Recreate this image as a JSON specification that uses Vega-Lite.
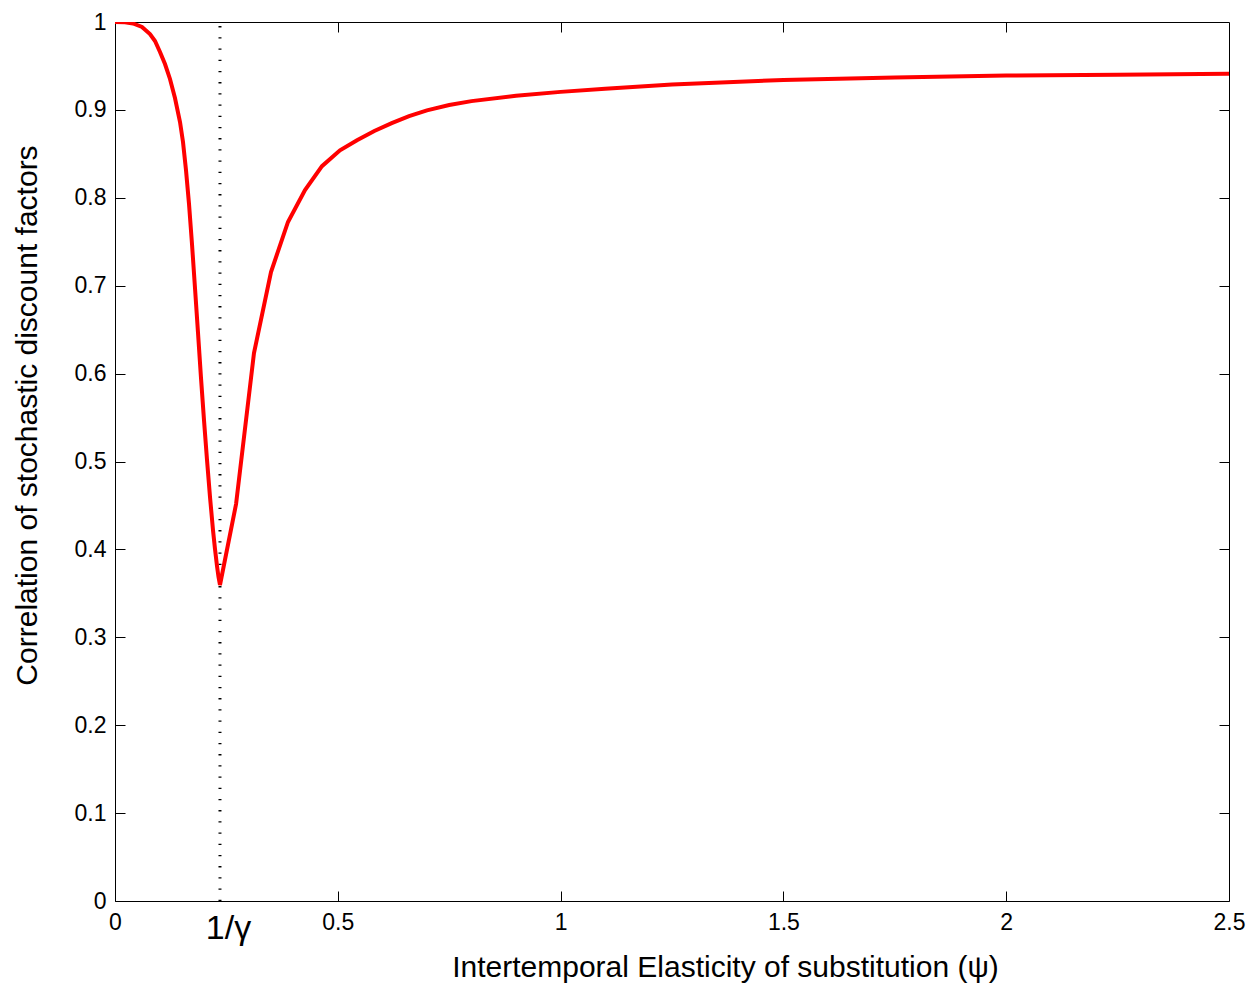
{
  "$schema": "https://vega.github.io/schema/vega-lite/v6.json",
  "width": 1114,
  "height": 879,
  "autosize": "none",
  "padding": {"left": 115, "top": 22, "right": 23, "bottom": 87},
  "background": "white",
  "config": {
    "view": {"stroke": "black", "strokeWidth": 1},
    "font": "Liberation Sans",
    "axis": {"grid": false, "domainColor": "black", "tickColor": "black", "labelColor": "black", "titleColor": "black", "titleFontWeight": "normal", "labelFont": "Liberation Sans", "titleFont": "Liberation Sans"}
  },
  "datasets": {
    "curve": [
      {"psi": 0.0, "rho": 1.0},
      {"psi": 0.0224, "rho": 0.9997},
      {"psi": 0.0404, "rho": 0.9983},
      {"psi": 0.0606, "rho": 0.9943},
      {"psi": 0.0785, "rho": 0.9863},
      {"psi": 0.0898, "rho": 0.9784},
      {"psi": 0.101, "rho": 0.9659},
      {"psi": 0.1122, "rho": 0.9522},
      {"psi": 0.1234, "rho": 0.9352},
      {"psi": 0.1346, "rho": 0.9135},
      {"psi": 0.1459, "rho": 0.8862},
      {"psi": 0.1526, "rho": 0.8635},
      {"psi": 0.1593, "rho": 0.8316},
      {"psi": 0.1661, "rho": 0.7929},
      {"psi": 0.1728, "rho": 0.7474},
      {"psi": 0.1795, "rho": 0.6974},
      {"psi": 0.1863, "rho": 0.6462},
      {"psi": 0.193, "rho": 0.595},
      {"psi": 0.1997, "rho": 0.5472},
      {"psi": 0.2065, "rho": 0.5017},
      {"psi": 0.2132, "rho": 0.4596},
      {"psi": 0.2199, "rho": 0.4221},
      {"psi": 0.2244, "rho": 0.4005},
      {"psi": 0.2289, "rho": 0.3811},
      {"psi": 0.2323, "rho": 0.3686},
      {"psi": 0.2356, "rho": 0.3595},
      {"psi": 0.2717, "rho": 0.4516},
      {"psi": 0.3119, "rho": 0.6234},
      {"psi": 0.3501, "rho": 0.7156},
      {"psi": 0.3882, "rho": 0.7725},
      {"psi": 0.4264, "rho": 0.8089},
      {"psi": 0.4645, "rho": 0.836},
      {"psi": 0.5049, "rho": 0.854},
      {"psi": 0.5431, "rho": 0.8655},
      {"psi": 0.582, "rho": 0.876},
      {"psi": 0.621, "rho": 0.885},
      {"psi": 0.66, "rho": 0.893},
      {"psi": 0.7, "rho": 0.8995},
      {"psi": 0.75, "rho": 0.9055},
      {"psi": 0.8, "rho": 0.91},
      {"psi": 0.9, "rho": 0.916},
      {"psi": 1.0, "rho": 0.9205},
      {"psi": 1.1, "rho": 0.924},
      {"psi": 1.25, "rho": 0.929},
      {"psi": 1.5, "rho": 0.934},
      {"psi": 1.75, "rho": 0.937},
      {"psi": 2.0, "rho": 0.939},
      {"psi": 2.25, "rho": 0.940},
      {"psi": 2.5, "rho": 0.941}
    ],
    "marker": [{"psi": 0.2356, "y0": 0, "y1": 1}]
  },
  "layer": [
    {
      "data": {"name": "marker"},
      "mark": {"type": "rule", "color": "black", "strokeWidth": 3, "strokeDash": [1.3, 9.9]},
      "encoding": {
        "x": {"field": "psi", "type": "quantitative", "scale": {"domain": [0, 2.5], "nice": false},
          "axis": {"orient": "top", "labels": false, "title": null, "values": [0.5, 1, 1.5, 2], "tickSize": -10, "domain": false}},
        "y": {"field": "y0", "type": "quantitative", "scale": {"domain": [0, 1], "nice": false},
          "axis": {"orient": "right", "labels": false, "title": null, "values": [0.1, 0.2, 0.3, 0.4, 0.5, 0.6, 0.7, 0.8, 0.9], "tickSize": -10, "domain": false}},
        "y2": {"field": "y1"}
      }
    },
    {
      "data": {"name": "curve"},
      "mark": {"type": "line", "color": "#ff0000", "strokeWidth": 4, "clip": true},
      "encoding": {
        "x": {"field": "psi", "type": "quantitative",
          "axis": {"orient": "bottom", "values": [0, 0.2356, 0.5, 1, 1.5, 2, 2.5],
            "labelExpr": "datum.value == 0.2356 ? '1/γ' : '' + datum.value",
            "tickSize": -10,
            "tickOpacity": {"condition": {"test": "datum.value == 0.2356 || datum.value == 0 || datum.value == 2.5", "value": 0}, "value": 1},
            "labelFontSize": {"condition": {"test": "datum.value == 0.2356", "value": 34}, "value": 23},
            "labelOffset": {"condition": {"test": "datum.value == 0.2356", "value": 8}, "value": 0},
            "labelPadding": 20,
            "labelOverlap": false,
            "labelFlush": false,
            "title": "Intertemporal Elasticity of substitution (ψ)",
            "titleFontSize": 30,
            "titleX": 610,
            "titleY": 51,
            "titleBaseline": "top",
            "titleAlign": "center"}},
        "y": {"field": "rho", "type": "quantitative",
          "axis": {"orient": "left", "values": [0, 0.1, 0.2, 0.3, 0.4, 0.5, 0.6, 0.7, 0.8, 0.9, 1],
            "labelExpr": "'' + datum.value",
            "tickSize": -10,
            "tickOpacity": {"condition": {"test": "datum.value == 0 || datum.value == 1", "value": 0}, "value": 1},
            "labelFontSize": 23,
            "labelPadding": 19,
            "labelOverlap": false,
            "labelFlush": false,
            "title": "Correlation of stochastic discount factors",
            "titleFontSize": 30,
            "titleX": -88,
            "titleY": 393,
            "titleAngle": -90,
            "titleAlign": "center",
            "titleBaseline": "middle"}}
      }
    }
  ]
}
